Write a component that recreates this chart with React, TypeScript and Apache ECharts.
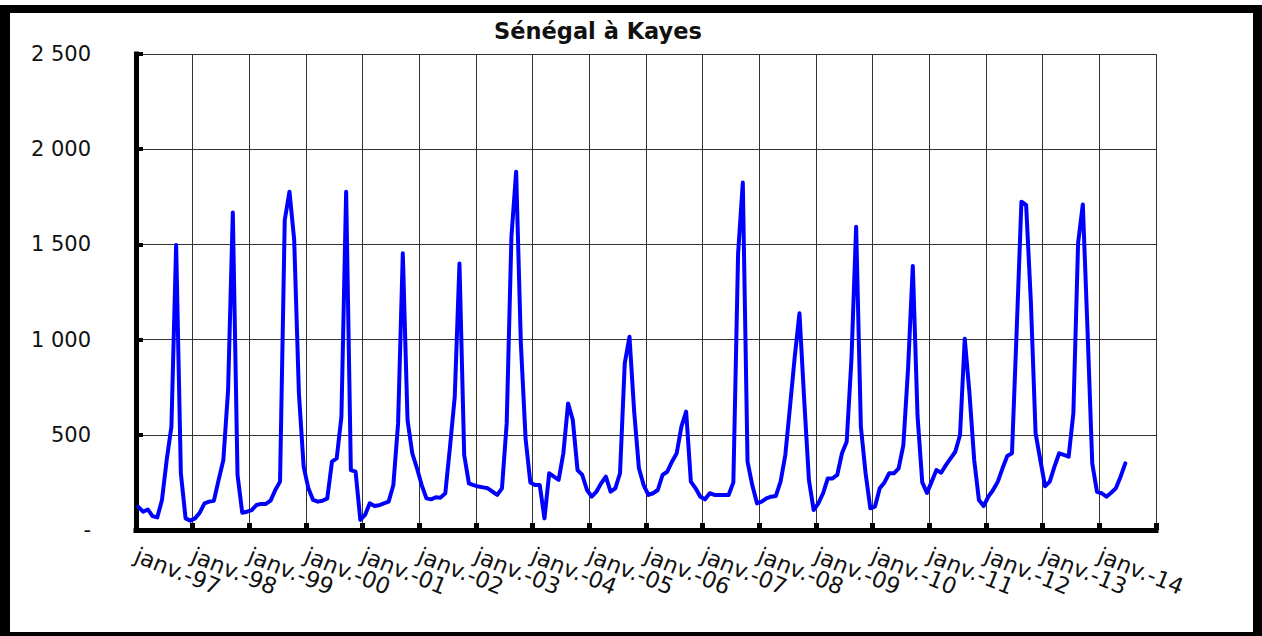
import React, { useEffect, useRef } from 'react';
import * as echarts from 'echarts';

const chartTitle = 'Sénégal à Kayes';
const monthPrefix = 'janv.-';
const yearLabels = ['97', '98', '99', '00', '01', '02', '03', '04', '05', '06', '07', '08', '09', '10', '11', '12', '13', '14'];

// Monthly discharge (m3/s), Jan 1997 -> Jun 2014
const flow1997 = [122, 96, 108, 73, 66, 158, 368, 543, 1497, 298, 61, 49];
const flow1998 = [61, 91, 140, 149, 154, 263, 368, 735, 1667, 289, 91, 96];
const flow1999 = [105, 131, 137, 137, 154, 210, 254, 1628, 1777, 1523, 718, 333];
const flow2000 = [219, 158, 149, 154, 166, 359, 376, 595, 1777, 315, 306, 53];
const flow2001 = [79, 140, 126, 130, 140, 149, 236, 560, 1453, 578, 403, 324];
const flow2002 = [236, 166, 161, 172, 170, 193, 438, 700, 1400, 394, 245, 236];
const flow2003 = [228, 224, 219, 201, 184, 219, 560, 1540, 1882, 980, 480, 250];
const flow2004 = [236, 236, 61, 298, 280, 263, 403, 665, 578, 315, 289, 210];
const flow2005 = [175, 201, 245, 280, 201, 219, 298, 875, 1015, 620, 324, 236];
const flow2006 = [184, 193, 210, 289, 306, 359, 403, 543, 622, 254, 219, 175];
const flow2007 = [161, 193, 184, 184, 184, 184, 250, 1450, 1825, 359, 236, 140];
const flow2008 = [149, 166, 175, 179, 254, 394, 648, 910, 1138, 683, 263, 105];
const flow2009 = [140, 193, 271, 271, 289, 403, 464, 893, 1593, 543, 298, 114];
const flow2010 = [123, 219, 250, 298, 298, 324, 446, 850, 1387, 600, 250, 195];
const flow2011 = [254, 315, 301, 341, 376, 411, 499, 1005, 718, 368, 158, 126];
const flow2012 = [175, 210, 254, 324, 389, 403, 1050, 1724, 1707, 1200, 508, 368];
const flow2013 = [230, 254, 333, 403, 394, 385, 613, 1506, 1710, 1050, 350, 201];
const flow2014 = [193, 175, 196, 219, 280, 350];

const monthlyFlow = [
  ...flow1997, ...flow1998, ...flow1999, ...flow2000, ...flow2001, ...flow2002,
  ...flow2003, ...flow2004, ...flow2005, ...flow2006, ...flow2007, ...flow2008,
  ...flow2009, ...flow2010, ...flow2011, ...flow2012, ...flow2013, ...flow2014,
];

const FONT = 'DejaVu Sans';

function formatThousands(v: number): string {
  if (v === 0) return '-';
  const s = String(Math.round(v));
  return s.replace(/\B(?=(\d{3})+(?!\d))/g, ' ');
}

export default function App() {
  const ref = useRef<HTMLDivElement>(null);

  useEffect(() => {
    if (!ref.current) return;
    const chart = echarts.init(ref.current, undefined, { renderer: 'svg' });
    const seriesData = monthlyFlow.map((v, i) => [i + 0.5, v]);
    const totalMonths = yearLabels.length * 12;
    // one category per January boundary (last boundary carries no label)
    const januaryCategories = [...yearLabels.map((y) => monthPrefix + y), ''];

    chart.setOption({
      animation: false,
      backgroundColor: 'transparent',
      graphic: [
        {
          type: 'text',
          x: 598,
          y: 31,
          style: {
            text: chartTitle,
            fontFamily: FONT,
            fontWeight: 'bold',
            fontSize: 22.5,
            fill: '#111',
            textAlign: 'center',
            textVerticalAlign: 'middle',
          },
        },
      ],
      grid: { left: 136, right: 106, top: 54, bottom: 106, containLabel: false },
      xAxis: [
        {
          // month scale used to place the data (hidden)
          type: 'value',
          position: 'top',
          show: false,
          min: 0,
          max: totalMonths,
          interval: 12,
        },
        {
          // visible January axis: line, ticks, grid lines and labels
          type: 'category',
          position: 'bottom',
          data: januaryCategories,
          boundaryGap: false,
          axisLine: { show: true, onZero: false, lineStyle: { color: '#000', width: 5, cap: 'square' } },
          axisTick: { show: true, inside: true, interval: 0, length: 7, lineStyle: { color: '#000', width: 5 } },
          splitLine: { show: true, interval: 0, lineStyle: { color: '#333', width: 1 } },
          axisLabel: {
            show: true,
            interval: 0,
            rotate: -22,
            margin: 24,
            hideOverlap: false,
            fontFamily: FONT,
            fontSize: 22.5,
            color: '#111',
          },
        },
      ],
      yAxis: {
        type: 'value',
        min: 0,
        max: 2500,
        interval: 500,
        axisLine: { show: true, lineStyle: { color: '#000', width: 5, cap: 'square' } },
        axisTick: { show: true, inside: true, length: 7, lineStyle: { color: '#000', width: 4 } },
        splitLine: { show: true, lineStyle: { color: '#333', width: 1 } },
        axisLabel: {
          margin: 45,
          fontFamily: FONT,
          fontSize: 21,
          color: '#111',
          formatter: (v: number) => formatThousands(v),
        },
      },
      series: [
        {
          type: 'line',
          xAxisIndex: 0,
          data: seriesData,
          showSymbol: false,
          symbol: 'none',
          lineStyle: { color: '#0000ff', width: 4, join: 'round', cap: 'round' },
          z: 5,
        },
      ],
    });

    return () => chart.dispose();
  }, []);

  return (
    <div style={{ position: 'absolute', left: 0, top: 0, width: 1262, height: 636, background: '#fff', overflow: 'hidden' }}>
      <div
        style={{
          position: 'absolute',
          left: 0,
          top: 5,
          width: 1262,
          height: 631,
          boxSizing: 'border-box',
          borderStyle: 'solid',
          borderColor: '#000',
          borderLeftWidth: 10,
          borderTopWidth: 8,
          borderRightWidth: 9,
          borderBottomWidth: 4,
        }}
      />
      <div ref={ref} style={{ position: 'absolute', left: 0, top: 0, width: 1262, height: 636 }} />
    </div>
  );
}
